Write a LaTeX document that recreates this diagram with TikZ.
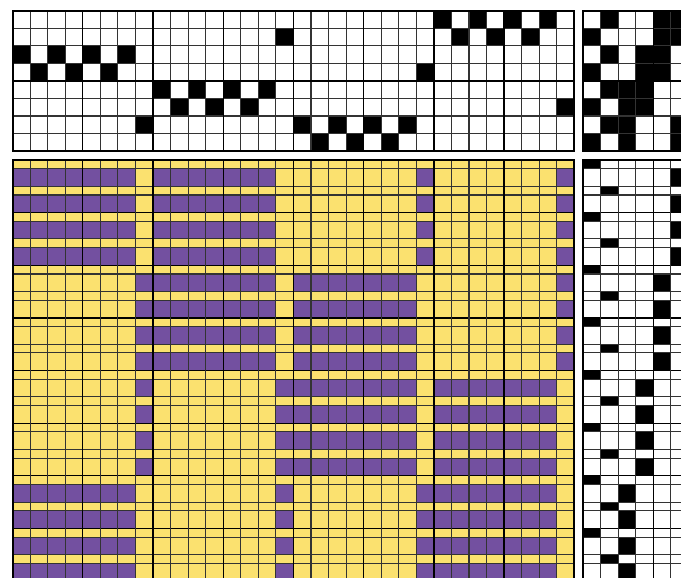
\documentclass[tikz,border=0pt]{standalone}
\usepackage{xcolor}
\usepackage{tikz}

\definecolor{warpyellow}{HTML}{FBE16F}
\definecolor{weftpurple}{HTML}{7350A0}

\begin{document}
\begin{tikzpicture}[x=0.5cm, y=0.5cm,
    minor/.style={draw=black!80, line width=0.85pt},
    major/.style={draw=black, line width=1.05pt},
    frame/.style={draw=black, line width=1.4pt},
    raised/.style={fill=black},
    weft/.style={fill=weftpurple}
]
    \useasboundingbox (-0.72,0.61) rectangle (38.08,-32.32);
    \clip (-0.72,0.61) rectangle (38.08,-32.32);

    \def\threading{3,4,3,4,3,4,3,7,5,6,5,6,5,6,5,2,7,8,7,8,7,8,7,4,1,2,1,2,1,2,1,6}
    \def\tieup{170,85,240,60,15,195}
    \def\treadling{6,6,6,6,5,5,5,5,4,4,4,4,3,3,3,3}

    % Threading
    \fill[white] (0,0) rectangle (32,-8);
    \foreach \s [count=\c] in \threading
        \fill[raised] (\c-1,1-\s) rectangle (\c,-\s);
    \foreach \x in {1,...,31}
        \draw[minor] (\x,0) -- (\x,-8);
    \foreach \y in {1,...,7}
        \draw[minor] (0,-\y) -- (32,-\y);
    \foreach \x in {4,8,...,28}
        \draw[major] (\x,0) -- (\x,-8);
    \draw[major] (0,-4) -- (32,-4);
    \draw[frame] (0,0) rectangle (32,-8);

    % Tie-up
    \fill[white] (32.5,0) rectangle (38.5,-8);
    \foreach \m [count=\t] in \tieup
        \foreach \s in {1,...,8} {
            \pgfmathtruncatemacro\tied{mod(floor(\m/2^(\s-1)),2)}
            \ifnum\tied=1
                \fill[raised] (31.5+\t,1-\s) rectangle (32.5+\t,-\s);
            \fi
        }
    \foreach \x in {33.5,34.5,35.5,37.5}
        \draw[minor] (\x,0) -- (\x,-8);
    \foreach \y in {1,...,7}
        \draw[minor] (32.5,-\y) -- (38.5,-\y);
    \draw[major] (36.5,0) -- (36.5,-8);
    \draw[major] (32.5,-4) -- (38.5,-4);
    \draw[frame] (32.5,0) rectangle (38.5,-8);

    % Drawdown and treadling
    \fill[warpyellow] (0,-8.5) rectangle (32,-32.5);
    \fill[white] (32.5,-8.5) rectangle (38.5,-32.5);
    \foreach \t [count=\k] in \treadling {
        \pgfmathsetmacro\ya{-8.5-1.5*(\k-1)}
        \pgfmathsetmacro\yb{\ya-0.5}
        \pgfmathsetmacro\yc{\ya-1.5}
        \pgfmathtruncatemacro\m{{170,85,240,60,15,195}[\t-1]}
        \pgfmathtruncatemacro\tabby{2-mod(\k,2)}
        % tabby pick, then pattern pick
        \fill[raised] (31.5+\tabby,\ya) rectangle (32.5+\tabby,\yb);
        \fill[raised] (31.5+\t,\yb) rectangle (32.5+\t,\yc);
        \foreach \s [count=\c] in \threading {
            \pgfmathtruncatemacro\tied{mod(floor(\m/2^(\s-1)),2)}
            \ifnum\tied=0
                \fill[weft] (\c-1,\yb) rectangle (\c,\yc);
            \fi
        }
        \ifodd\k
            \draw[major] (0,\ya) -- (32,\ya) (32.5,\ya) -- (38.5,\ya);
        \else
            \draw[minor] (0,\ya) -- (32,\ya) (32.5,\ya) -- (38.5,\ya);
        \fi
        \draw[minor] (0,\yb) -- (32,\yb) (32.5,\yb) -- (38.5,\yb);
    }
    \foreach \x in {1,...,31}
        \draw[minor] (\x,-8.5) -- (\x,-32.5);
    \foreach \x in {4,8,...,28}
        \draw[major] (\x,-8.5) -- (\x,-32.5);
    \foreach \x in {33.5,34.5,35.5,37.5}
        \draw[minor] (\x,-8.5) -- (\x,-32.5);
    \draw[major] (36.5,-8.5) -- (36.5,-32.5);
    \draw[frame] (0,-8.5) rectangle (32,-32.5);
    \draw[frame] (32.5,-8.5) rectangle (38.5,-32.5);
\end{tikzpicture}
\end{document}
